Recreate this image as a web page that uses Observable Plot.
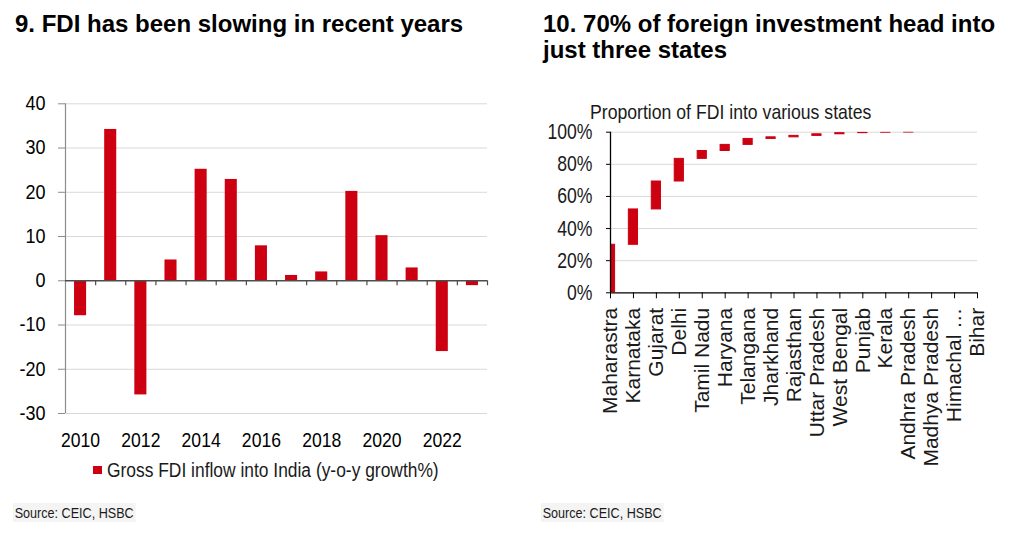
<!DOCTYPE html>
<html>
<head>
<meta charset="utf-8">
<script src="https://cdn.jsdelivr.net/npm/d3@7"></script>
<script src="https://cdn.jsdelivr.net/npm/@observablehq/plot@0.6"></script>
<style>
  body { margin: 0; background: #fff; }
  #page { position: relative; width: 1022px; height: 550px; overflow: hidden; background: #fff;
          font-family: "Liberation Sans", Arial, sans-serif; color: #000; }
  .abs { position: absolute; white-space: nowrap; }
  .title { font-weight: bold; font-size: 24px; line-height: 26px; color: #000; }
  .squeeze { transform-origin: 0 50%; }
  .subtitle { font-size: 21px; line-height: 21px; color: #1a1a1a; transform: scaleX(0.84); }
  .legend { font-size: 20px; line-height: 20px; color: #1a1a1a; transform: scaleX(0.87); }
  .swatch { width: 9px; height: 8px; }
  .source { font-size: 15px; line-height: 15px; color: #1a1a1a; background: #f4f4f4; padding: 2px 2px; transform: scaleX(0.84); }
  #right g[aria-label="x-axis tick label"] { font-family: "Liberation Sans", Arial, sans-serif; font-size: 21px; }
</style>
</head>
<body>
<div id="page">
  <div class="abs title" style="left:15px;top:11px;">9. FDI has been slowing in recent years</div>
  <div class="abs title" style="left:543px;top:11px;">10. 70% of foreign investment head into<br>just three states</div>
  <div id="left" class="abs" style="left:0px;top:90px;"></div>
  <div id="right" class="abs" style="left:530px;top:120px;"></div>
  <div id="subtitle" class="abs subtitle squeeze" style="left:590px;top:100.5px;"></div>
  <div id="swatch" class="abs swatch" style="left:93px;top:466px;"></div>
  <div id="legend" class="abs legend squeeze" style="left:107px;top:460px;"></div>
  <div class="abs source squeeze" style="left:13px;top:503.3px;">Source: CEIC, HSBC</div>
  <div class="abs source squeeze" style="left:541px;top:503.3px;">Source: CEIC, HSBC</div>
</div>
<script>
// ---------- Data: chart 9 ----------
const years = [2010, 2011, 2012, 2013, 2014, 2015, 2016, 2017, 2018, 2019, 2020, 2021, 2022, 2023];
const fdiGrowth = [-7.9, 34.2, -25.8, 4.7, 25.2, 22.9, 7.9, 1.2, 2.0, 20.2, 10.2, 2.9, -16.0, -1.1];
const growthTicks = [-30, -20, -10, 0, 10, 20, 30, 40];
const yearLabels = [2010, 2012, 2014, 2016, 2018, 2020, 2022];
const seriesName = "Gross FDI inflow into India (y-o-y growth%)";

// ---------- Data: chart 10 ----------
const states = ["Maharastra", "Karnataka", "Gujarat", "Delhi", "Tamil Nadu", "Haryana", "Telangana",
  "Jharkhand", "Rajasthan", "Uttar Pradesh", "West Bengal", "Punjab", "Kerala", "Andhra Pradesh",
  "Madhya Pradesh", "Himachal …", "Bihar"];
const stateShares = [29.9, 22.0, 17.4, 14.1, 4.9, 3.8, 3.7, 1.0, 0.9, 1.0, 0.7, 0.3, 0.1, 0.1, 0, 0, 0];
const shareTicks = [0, 20, 40, 60, 80, 100];
const subtitleText = "Proportion of FDI into various states";

const RED = "#cc0011";
const FONT = '"Liberation Sans", Arial, sans-serif';

document.getElementById("subtitle").textContent = subtitleText;
document.getElementById("legend").textContent = seriesName;
document.getElementById("swatch").style.background = RED;

// horizontally condense axis labels (the reference uses a narrow face)
function squeeze(svg, label, s) {
  svg.querySelectorAll(`g[aria-label="${label}"] text`).forEach((t) => {
    const tr = t.getAttribute("transform");
    if (tr) t.setAttribute("transform", `${tr} scale(${s},1)`);
    else {
      const x = +t.getAttribute("x") || 0;
      t.setAttribute("transform", `translate(${x},0) scale(${s},1) translate(${-x},0)`);
    }
  });
}

// ---------- Chart 9 ----------
const fdi = years.map((year, i) => ({year, value: fdiGrowth[i]}));
const leftChart = Plot.plot({
  width: 520,
  height: 365,
  marginLeft: 65,
  marginRight: 33,
  marginTop: 13.3,
  marginBottom: 42,
  style: {fontFamily: FONT, fontSize: "20px", color: "#000", background: "transparent", overflow: "visible"},
  x: {type: "linear", domain: [years[0] - 0.5, years[years.length - 1] + 0.5], label: null},
  y: {domain: [growthTicks[0], growthTicks[growthTicks.length - 1]], label: null},
  marks: [
    Plot.ruleY(growthTicks.filter((t) => t !== 0), {stroke: "#d9d9d9", strokeWidth: 1}),
    Plot.rect(fdi, {x1: (d) => d.year - 0.2, x2: (d) => d.year + 0.2, y1: 0, y2: "value", fill: RED}),
    Plot.ruleX([years[0] - 0.5], {y1: growthTicks[0], y2: growthTicks[growthTicks.length - 1], stroke: "#8c8c8c", strokeWidth: 1.2}),
    Plot.ruleY([0], {stroke: "#4d4d4d", strokeWidth: 1.3}),
    Plot.ruleX(years.map((y) => y + 0.5), {y1: 0, y2: 0, insetBottom: -5, stroke: "#4d4d4d", strokeWidth: 1.2}),
    Plot.axisY({ticks: growthTicks, tickSize: 7, tickPadding: 13, stroke: "#8c8c8c", fill: "#000",
      fontSize: 20, label: null, tickFormat: (d) => String(d)}),
    Plot.axisX({ticks: yearLabels, tickSize: 0, tickPadding: 19, fill: "#000", fontSize: 20,
      label: null, tickFormat: (d) => String(d)})
  ]
});
squeeze(leftChart, "y-axis tick label", 0.9);
squeeze(leftChart, "x-axis tick label", 0.88);
document.getElementById("left").appendChild(leftChart);

// ---------- Chart 10 ----------
const ends = d3.cumsum(stateShares);
const stateData = states
  .map((state, i) => ({i, state, start: ends[i] - stateShares[i], end: ends[i]}))
  .filter((d) => d.end > d.start);

const rightChart = Plot.plot({
  width: 492,
  height: 360,
  marginLeft: 80,
  marginRight: 45,
  marginTop: 11.7,
  marginBottom: 187.7,
  style: {fontFamily: FONT, fontSize: "22px", color: "#1a1a1a", background: "transparent", overflow: "visible"},
  x: {type: "linear", domain: [0, states.length - 1], label: null},
  y: {domain: [shareTicks[0], shareTicks[shareTicks.length - 1]], label: null},
  marks: [
    Plot.ruleY(shareTicks.filter((t) => t > 0), {stroke: "#d9d9d9", strokeWidth: 1}),
    Plot.rect(stateData, {x1: (d) => d.i - 0.2, x2: (d) => d.i + 0.2, y1: "start", y2: "end",
      fill: RED, stroke: RED, strokeWidth: 1, clip: true}),
    Plot.ruleX([0], {stroke: "#000", strokeWidth: 1.3}),
    Plot.ruleY([0], {stroke: "#000", strokeWidth: 1.3}),
    Plot.axisY({ticks: shareTicks, tickSize: 4, tickPadding: 14, stroke: "#000", fill: "#1a1a1a",
      fontSize: 22, label: null, tickFormat: (d) => d + "%"}),
    Plot.axisX({ticks: d3.range(states.length), tickFormat: (i) => states[i], tickRotate: -90,
      tickSize: 6, tickPadding: 9, stroke: "#000", fill: "#1a1a1a", fontSize: 21, label: null})
  ]
});
squeeze(rightChart, "y-axis tick label", 0.8);
document.getElementById("right").appendChild(rightChart);
</script>
</body>
</html>
